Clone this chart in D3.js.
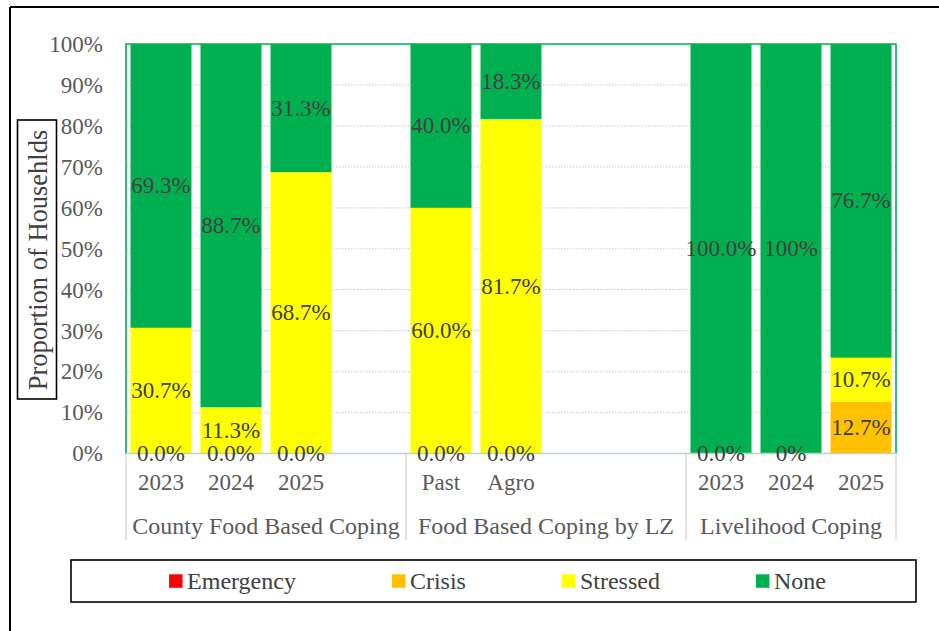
<!DOCTYPE html>
<html>
<head>
<meta charset="utf-8">
<script src="https://cdn.jsdelivr.net/npm/d3@7"></script>
<style>
  html, body { margin: 0; padding: 0; background: #fff; }
  svg { display: block; }
  text { font-family: "Liberation Serif", "Times New Roman", serif; }
</style>
</head>
<body>
<svg id="chart" width="939" height="631"></svg>
<script>
// ---- Data ----
const slots = ["c2023","c2024","c2025","gap1","Past","Agro","gap2","gap3","l2023","l2024","l2025"];
const tickLabels = ["2023","2024","2025","","Past","Agro","","","2023","2024","2025"];
const groups = ["County Food Based Coping","Food Based Coping by LZ","Livelihood Coping"];
const groupStart = [0, 4, 8];
const groupEnd = [4, 8, 11];
const seriesNames = ["Emergency","Crisis","Stressed","None"];
const seriesColors = ["#FF0000","#FFC000","#FFFF00","#00B050"];
// null = not shown / no label
const emergency = [0, 0, 0, null, 0, 0, null, null, 0, 0, null];
const crisis    = [null, null, null, null, null, null, null, null, null, null, 12.7];
const stressed  = [30.7, 11.3, 68.7, null, 60.0, 81.7, null, null, null, null, 10.7];
const none      = [69.3, 88.7, 31.3, null, 40.0, 18.3, null, null, 100.0, 100, 76.7];
const labelDecimals = [1, 1, 1, null, 1, 1, null, null, 1, 0, 1];
const yTicks = [0,10,20,30,40,50,60,70,80,90,100];

const seriesValues = [emergency, crisis, stressed, none];

// ---- Layout ----
const svg = d3.select("#chart");
const W = 939, H = 631;
const plot = { left: 126, right: 896, top: 44, bottom: 453.5 };
const FONT = 23;
const FONT_L = 24;

// outer frame (top & left)
svg.append("line").attr("x1", 10).attr("x2", W).attr("y1", 7).attr("y2", 7)
  .attr("stroke", "#000").attr("stroke-width", 2);
svg.append("line").attr("x1", 10).attr("x2", 10).attr("y1", 7).attr("y2", H)
  .attr("stroke", "#000").attr("stroke-width", 2);

const x = d3.scaleBand().domain(slots).range([plot.left, plot.right])
  .paddingInner(9/70).paddingOuter(4.5/70);
const y = d3.scaleLinear().domain([0, 100]).range([plot.bottom, plot.top]);

// gridlines
svg.append("g").selectAll("line").data(yTicks.filter(t => t > 0 && t < 100)).join("line")
  .attr("x1", plot.left).attr("x2", plot.right)
  .attr("y1", d => y(d)).attr("y2", d => y(d))
  .attr("stroke", "#CFCFCF").attr("stroke-width", 1.2).attr("stroke-dasharray", "1.5,1.5");

// stacked data
const rows = slots.map((s, i) => {
  const r = { slot: s, i };
  seriesNames.forEach((n, k) => { r[n] = seriesValues[k][i]; });
  return r;
});
const stack = d3.stack().keys(seriesNames).value((d, key) => d[key] == null ? 0 : d[key]);
const stacked = stack(rows);

const barsG = svg.append("g");
stacked.forEach((layer, k) => {
  barsG.append("g").attr("fill", seriesColors[k])
    .selectAll("rect").data(layer.filter(d => d.data[seriesNames[k]] != null && d[1] - d[0] > 0)).join("rect")
    .attr("x", d => x(d.data.slot))
    .attr("width", x.bandwidth())
    .attr("y", d => y(Math.min(100, d[1])))
    .attr("height", d => y(d[0]) - y(Math.min(100, d[1])));
});

// plot area border
svg.append("path")
  .attr("d", `M${plot.left},${plot.bottom} V${plot.top} H${plot.right} V${plot.bottom}`)
  .attr("fill", "none").attr("stroke", "#00B050").attr("stroke-width", 1.6);
// category axis line
svg.append("line").attr("x1", plot.left).attr("x2", plot.right)
  .attr("y1", plot.bottom).attr("y2", plot.bottom)
  .attr("stroke", "#B4D9C2").attr("stroke-width", 1.5);

// data labels
const labelsG = svg.append("g");
stacked.forEach((layer, k) => {
  labelsG.append("g").selectAll("text")
    .data(layer.filter(d => d.data[seriesNames[k]] != null))
    .join("text")
    .attr("x", d => x(d.data.slot) + x.bandwidth() / 2)
    .attr("y", d => (y(d[0]) + y(Math.min(100, d[1]))) / 2)
    .attr("text-anchor", "middle")
    .attr("dominant-baseline", "central")
    .attr("font-size", FONT)
    .attr("fill", "#404040")
    .text(d => {
      const v = d.data[seriesNames[k]];
      const dec = labelDecimals[d.data.i];
      return d3.format("." + dec + "f")(v) + "%";
    });
});

// y axis tick labels
const yAxis = d3.axisLeft(y).tickValues(yTicks).tickFormat(d => d + "%").tickSize(0).tickPadding(0);
const yG = svg.append("g").attr("transform", `translate(${plot.left - 23},0)`).call(yAxis);
yG.select(".domain").remove();
yG.selectAll("text").attr("font-size", FONT).attr("fill", "#595959")
  .attr("font-family", "Liberation Serif, Times New Roman, serif");

// x axis: category labels
const xAxis = d3.axisBottom(x).tickFormat((d, i) => tickLabels[i]).tickSize(0).tickPadding(0);
const xG = svg.append("g").attr("transform", `translate(0,${plot.bottom})`).call(xAxis);
xG.select(".domain").remove();
xG.selectAll("text").attr("font-size", FONT).attr("fill", "#595959")
  .attr("font-family", "Liberation Serif, Times New Roman, serif")
  .attr("dy", null).attr("y", 36);

// group separators
const step = x.step();
const sepX = [groupStart[0], ...groupEnd].map(i => plot.left + i * step);
svg.append("g").selectAll("line").data(sepX).join("line")
  .attr("x1", d => d).attr("x2", d => d)
  .attr("y1", plot.bottom + 1).attr("y2", 540)
  .attr("stroke", "#D9D9D9").attr("stroke-width", 1.5);

// group labels
svg.append("g").selectAll("text").data(groups).join("text")
  .attr("x", (d, i) => plot.left + (groupStart[i] + groupEnd[i]) / 2 * step)
  .attr("y", 534)
  .attr("text-anchor", "middle")
  .attr("font-size", FONT_L).attr("fill", "#595959")
  .text(d => d);

// y axis title in box
const titleG = svg.append("g");
titleG.append("rect").attr("x", 17.5).attr("y", 120).attr("width", 39).attr("height", 279)
  .attr("fill", "#fff").attr("stroke", "#000").attr("stroke-width", 1.6);
titleG.append("text")
  .attr("transform", "translate(38,260) rotate(-90)")
  .attr("text-anchor", "middle").attr("dominant-baseline", "central")
  .attr("font-size", 26.5).attr("fill", "#404040")
  .text("Proportion of Househlds");

// legend
const legG = svg.append("g");
legG.append("rect").attr("x", 71).attr("y", 560).attr("width", 845).attr("height", 42)
  .attr("fill", "#fff").attr("stroke", "#000").attr("stroke-width", 1.6);
const items = legG.selectAll("g.item").data(seriesNames).join("g").attr("class", "item");
items.append("rect").attr("width", 13.5).attr("height", 13.5).attr("y", 574.3)
  .attr("fill", (d, i) => seriesColors[i]);
items.append("text").attr("x", 18).attr("y", 581).attr("dominant-baseline", "central")
  .attr("font-size", FONT_L).attr("fill", "#404040").text(d => d);
const widths = [];
items.each(function() { widths.push(18 + d3.select(this).select("text").node().getComputedTextLength()); });
const gap = 96;
const total = d3.sum(widths) + gap * (widths.length - 1);
let cx = 71 + 845 / 2 - total / 2 + 4;
items.each(function(d, i) {
  d3.select(this).attr("transform", `translate(${cx},0)`);
  cx += widths[i] + gap;
});
</script>
</body>
</html>
